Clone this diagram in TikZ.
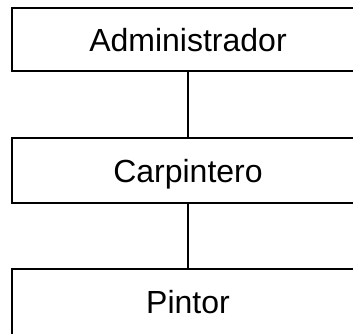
\documentclass[tikz,border=0pt]{standalone}
\usepackage{fontspec}
\setmainfont{Liberation Sans}
\begin{document}
\begin{tikzpicture}[x=1pt,y=1pt,
  box/.style={draw=black, line width=1.6pt, fill=white, minimum width=352pt,
    inner sep=0pt, text height=23pt, text depth=0pt,
    font=\fontsize{32}{36}\selectfont},
  link/.style={draw=black, line width=1.6pt}]
\useasboundingbox (0,0) rectangle (353,-333);
\clip (0,0) rectangle (353,-333);
\node[box, minimum height=63pt] (adm) at (188,-39.5) {Administrador};
\node[box, minimum height=65pt] (car) at (188,-170.5) {Carpintero};
\node[box, minimum height=69pt, text depth=4pt] (pin) at (188,-303.5) {Pintor};
\draw[link] (adm) -- (car);
\draw[link] (car) -- (pin);
\end{tikzpicture}
\end{document}
